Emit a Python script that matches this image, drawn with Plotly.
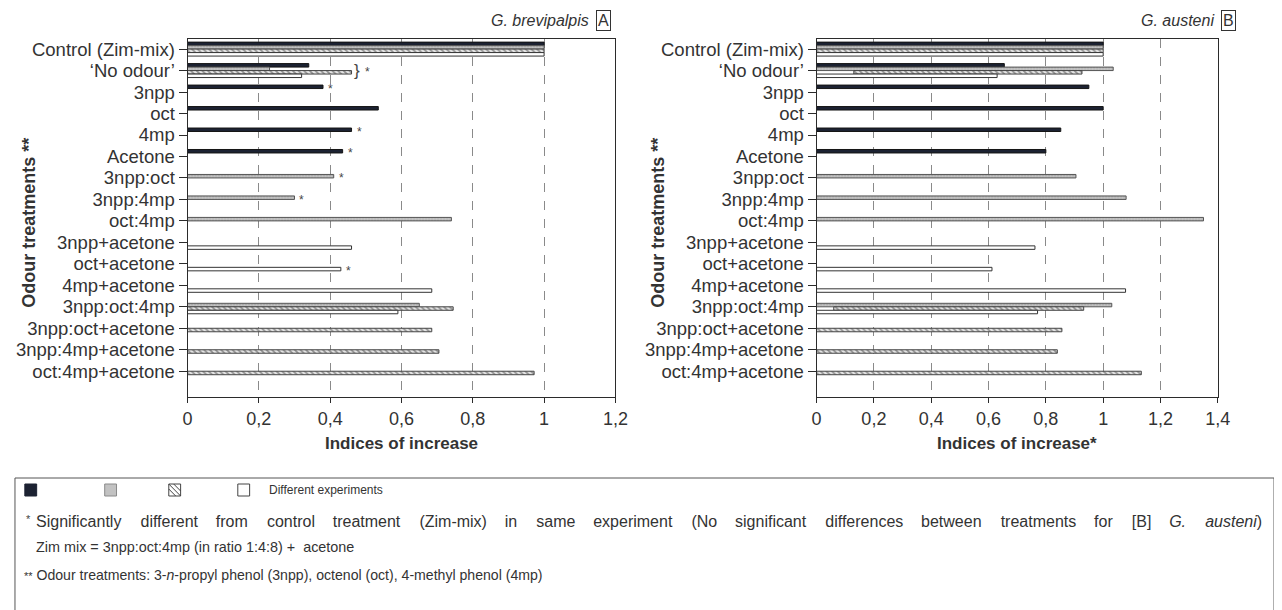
import plotly.graph_objects as go

categories = ["Control (Zim-mix)", "\u2018No odour\u2019", "3npp", "oct", "4mp", "Acetone",
              "3npp:oct", "3npp:4mp", "oct:4mp", "3npp+acetone", "oct+acetone",
              "4mp+acetone", "3npp:oct:4mp", "3npp:oct+acetone", "3npp:4mp+acetone",
              "oct:4mp+acetone"]
N = None
# Panel A - G. brevipalpis
dark_A = [1.0, 0.34, 0.38, 0.535, 0.46, 0.435, N, N, N, N, N, N, N, N, N, N]
gray_A = [1.0, 0.23, N, N, N, N, 0.41, 0.30, 0.74, N, N, N, 0.65, N, N, N]
hatch_A = [1.0, 0.46, N, N, N, N, N, N, N, N, N, N, 0.745, 0.685, 0.705, 0.972]
white_A = [1.0, 0.32, N, N, N, N, N, N, N, 0.46, 0.43, 0.685, 0.59, N, N, N]
# Panel B - G. austeni
dark_B = [1.0, 0.655, 0.95, 1.0, 0.852, 0.80, N, N, N, N, N, N, N, N, N, N]
gray_B = [1.0, 1.035, N, N, N, N, 0.905, 1.08, 1.35, N, N, N, 1.03, N, N, N]
hatch_B = [1.0, 0.926, N, N, N, N, N, N, N, N, N, N, 0.932, 0.856, 0.84, 1.133]
hatch_B_start = [0, 0.13, 0, 0, 0, 0, 0, 0, 0, 0, 0, 0, 0.06, 0, 0, 0]
white_B = [1.0, 0.63, N, N, N, N, N, N, N, 0.762, 0.612, 1.078, 0.771, N, N, N]

# significance markers in panel A: (category index, series)
sig_A = [(2, "dark"), (4, "dark"), (5, "dark"), (6, "gray"), (7, "gray"), (10, "white")]

xticks_A = [0, 0.2, 0.4, 0.6, 0.8, 1.0, 1.2]
xticks_B = [0, 0.2, 0.4, 0.6, 0.8, 1.0, 1.2, 1.4]
fmt = lambda v: ("%g" % v).replace(".", ",")

W, H = 1282, 610
def px(x): return x / W
def py(y): return 1 - y / H

INK = "#2b2b2b"
FONT = "Liberation Sans"

styles = {
    "dark": dict(color="#1c2232", line=dict(color="#151515", width=1)),
    "gray": dict(color="#bdbdbd", line=dict(color="#555", width=1),
                 pattern=dict(shape=".", fgcolor="#7a7a7a", bgcolor="#c4c4c4", size=3, solidity=0.3)),
    "hatch": dict(color="#d8d8d8", line=dict(color="#444", width=1),
                  pattern=dict(shape="\\", fgcolor="#3a3a3a", bgcolor="#e6e6e6", size=4, solidity=0.45)),
    "white": dict(color="#ffffff", line=dict(color="#333", width=1)),
}

fig = go.Figure()

def add_panel(series, xa, ya, bases=None):
    for name, vals in series:
        kw = {}
        if bases and name in bases:
            b = bases[name]
            kw["base"] = b
            vals = [None if v is None else v - s for v, s in zip(vals, b)]
        fig.add_trace(go.Bar(y=categories, x=vals, orientation="h", name=name,
                             marker=styles[name], xaxis=xa, yaxis=ya,
                             showlegend=False, **kw))

add_panel([("dark", dark_A), ("gray", gray_A), ("hatch", hatch_A), ("white", white_A)], "x", "y")
add_panel([("dark", dark_B), ("gray", gray_B), ("hatch", hatch_B), ("white", white_B)], "x2", "y2",
          bases={"hatch": hatch_B_start})

ydom = [py(389), py(31)]
yrange = [16.2, -0.47]
axis_common = dict(showline=True, linecolor=INK, linewidth=1, mirror=True,
                   ticks="outside", ticklen=5, tickcolor=INK,
                   tickfont=dict(family=FONT, size=18, color="#333"))
ycommon = dict(type="category", categoryarray=categories, tickmode="array",
               tickvals=categories, showgrid=False, range=yrange, domain=ydom,
               **{**axis_common, "ticklen": 8,
                  "tickfont": dict(family=FONT, size=18.5, color="#333")})
fig.update_layout(
    width=W, height=H, margin=dict(l=0, r=0, t=0, b=0),
    paper_bgcolor="white", plot_bgcolor="white",
    barmode="group", bargap=0.35, bargroupgap=0,
    xaxis=dict(domain=[px(177), px(611)], range=[0, 1.2], anchor="y",
               tickvals=xticks_A, ticktext=[fmt(v) for v in xticks_A],
               showgrid=True, gridcolor="#8a8a8a", griddash="dash", gridwidth=1,
               zeroline=False, **axis_common),
    yaxis=dict(anchor="x", **ycommon),
    xaxis2=dict(domain=[px(815), px(1222)], range=[0, 1.4], anchor="y2",
                tickvals=xticks_B, ticktext=[fmt(v) for v in xticks_B],
                showgrid=True, gridcolor="#8a8a8a", griddash="dash", gridwidth=1,
                zeroline=False, **axis_common),
    yaxis2=dict(anchor="x2", **ycommon),
)

ann = []
# slot offsets (px, upward positive) for grouped bars
slot = {"dark": 5.2, "gray": 1.75, "hatch": -1.75, "white": -5.2}
valsA = {"dark": dark_A, "gray": gray_A, "hatch": hatch_A, "white": white_A}
for i, s in sig_A:
    ann.append(dict(x=valsA[s][i], y=categories[i], xref="x", yref="y", text="*",
                    showarrow=False, xanchor="left", yanchor="middle", xshift=3,
                    yshift=slot[s] - 2, font=dict(family=FONT, size=12, color="#444")))
# brace + star for 'No odour' group
ann.append(dict(x=hatch_A[1], y=categories[1], xref="x", yref="y", text="}",
                showarrow=False, xanchor="left", yanchor="middle", xshift=0, yshift=0,
                font=dict(family=FONT, size=17, color="#444")))
ann.append(dict(x=hatch_A[1], y=categories[1], xref="x", yref="y", text="*",
                showarrow=False, xanchor="left", yanchor="middle", xshift=11, yshift=-1,
                font=dict(family=FONT, size=12, color="#444")))

# panel titles
TY = 13
ann.append(dict(x=px(586), y=py(TY), xref="paper", yref="paper", text="<i>G. brevipalpis</i>",
                showarrow=False, xanchor="right", yanchor="middle",
                font=dict(family=FONT, size=16, color="#333")))
ann.append(dict(x=px(599), y=py(TY), xref="paper", yref="paper", text="A",
                showarrow=False, xanchor="center", yanchor="middle", bordercolor="#333",
                borderwidth=1, borderpad=1, font=dict(family=FONT, size=16, color="#333")))
ann.append(dict(x=px(1220), y=py(TY), xref="paper", yref="paper", text="<i>G. austeni</i>",
                showarrow=False, xanchor="right", yanchor="middle",
                font=dict(family=FONT, size=16, color="#333")))
ann.append(dict(x=px(1233), y=py(TY), xref="paper", yref="paper", text="B",
                showarrow=False, xanchor="center", yanchor="middle", bordercolor="#333",
                borderwidth=1, borderpad=1, font=dict(family=FONT, size=16, color="#333")))

# axis titles
for xc, yc in [(16, 215), (654, 215)]:
    ann.append(dict(x=px(xc), y=py(yc), xref="paper", yref="paper",
                    text="<b>Odour treatments **</b>", textangle=-90, showarrow=False,
                    xanchor="center", yanchor="middle",
                    font=dict(family=FONT, size=18, color="#333")))
ann.append(dict(x=px(394), y=py(435), xref="paper", yref="paper",
                text="<b>Indices of increase</b>", showarrow=False,
                xanchor="center", yanchor="middle",
                font=dict(family=FONT, size=17, color="#333")))
ann.append(dict(x=px(1018), y=py(435), xref="paper", yref="paper",
                text="<b>Indices of increase*</b>", showarrow=False,
                xanchor="center", yanchor="middle",
                font=dict(family=FONT, size=17, color="#333")))

# legend box texts
ann.append(dict(x=px(258), y=py(482), xref="paper", yref="paper", text="Different experiments",
                showarrow=False, xanchor="left", yanchor="middle",
                font=dict(family=FONT, size=12, color="#333")))
sentence = ("Significantly different from control treatment (Zim-mix) in same experiment "
            "(No significant differences between treatments for [B] <i>G. austeni</i>)")
words = sentence.split(" ")
gaps = [" \u00a0\u00a0\u00a0\u200a" if k % 2 == 0 else " \u00a0\u00a0\u00a0" for k in range(len(words) - 1)]
just = words[0] + "".join(g + w for g, w in zip(gaps, words[1:]))
ann.append(dict(x=px(11), y=py(511), xref="paper", yref="paper", text="*",
                showarrow=False, xanchor="left", yanchor="middle",
                font=dict(family=FONT, size=11, color="#444")))
ann.append(dict(x=px(21), y=py(513), xref="paper", yref="paper", text=just,
                showarrow=False, xanchor="left", yanchor="middle",
                font=dict(family=FONT, size=16, color="#333")))
ann.append(dict(x=px(21), y=py(539), xref="paper", yref="paper",
                text="Zim mix = 3npp:oct:4mp (in ratio 1:4:8) + \u00a0acetone",
                showarrow=False, xanchor="left", yanchor="middle",
                font=dict(family=FONT, size=14.4, color="#333")))
ann.append(dict(x=px(9), y=py(567), xref="paper", yref="paper",
                text="<span style='font-size:11px'>**</span> Odour treatments: 3-<i>n</i>-propyl phenol (3npp), octenol (oct), 4-methyl phenol (4mp)",
                showarrow=False, xanchor="left", yanchor="middle",
                font=dict(family=FONT, size=14.1, color="#333")))

shapes = []
# legend frame
shapes.append(dict(type="rect", xref="paper", yref="paper", x0=px(2), x1=px(1279),
                   y0=py(603), y1=py(470), line=dict(color="#555", width=1)))
# legend swatches
sq = 12
SY0, SY1 = 476, 488
def sw(x, **kw):
    shapes.append(dict(type="rect", xref="paper", yref="paper", x0=px(x), x1=px(x + sq),
                       y0=py(SY1), y1=py(SY0), **kw))
sw(12, fillcolor="#1c2232", line=dict(color="#1c2232", width=1))
sw(93, fillcolor="#c2c2c2", line=dict(color="#8a8a8a", width=1))
sw(158, fillcolor="white", line=dict(color="#444", width=1))
for k in range(-1, 2):
    off = k * 5
    x0, y0 = 158 + max(0, off), SY0 + max(0, -off)
    x1, y1 = 170 + min(0, off), SY1 + min(0, -off)
    shapes.append(dict(type="line", xref="paper", yref="paper", x0=px(x0), y0=py(y0),
                       x1=px(x1), y1=py(y1), line=dict(color="#444", width=1)))
sw(228, fillcolor="white", line=dict(color="#444", width=1))

fig.update_layout(annotations=ann, shapes=shapes)
fig.write_html("out.html")
